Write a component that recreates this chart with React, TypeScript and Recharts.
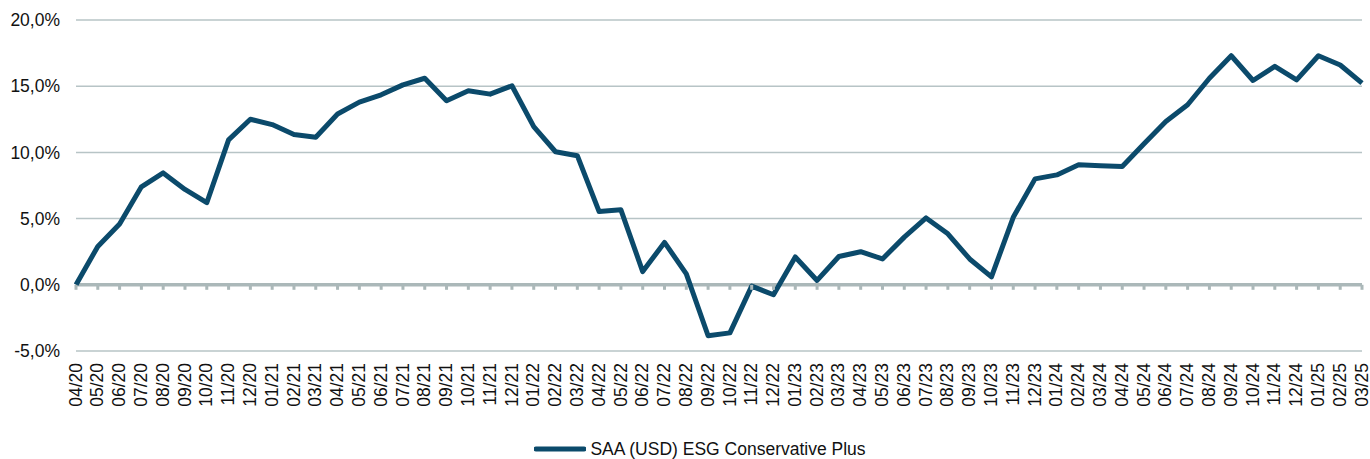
import React from 'react';
import { LineChart, Line, XAxis, YAxis, CartesianGrid, Legend } from 'recharts';

const months = [
  '04/20', '05/20', '06/20', '07/20', '08/20', '09/20', '10/20', '11/20', '12/20',
  '01/21', '02/21', '03/21', '04/21', '05/21', '06/21', '07/21', '08/21', '09/21', '10/21', '11/21', '12/21',
  '01/22', '02/22', '03/22', '04/22', '05/22', '06/22', '07/22', '08/22', '09/22', '10/22', '11/22', '12/22',
  '01/23', '02/23', '03/23', '04/23', '05/23', '06/23', '07/23', '08/23', '09/23', '10/23', '11/23', '12/23',
  '01/24', '02/24', '03/24', '04/24', '05/24', '06/24', '07/24', '08/24', '09/24', '10/24', '11/24', '12/24',
  '01/25', '02/25', '03/25',
];

const conservativePlus = [
  0.0, 2.9, 4.6, 7.4, 8.45, 7.2, 6.2, 10.95, 12.5,
  12.1, 11.35, 11.15, 12.9, 13.8, 14.35, 15.1, 15.6, 13.9, 14.65, 14.4, 15.03,
  11.95, 10.05, 9.75, 5.53, 5.66, 1.0, 3.2, 0.83, -3.85, -3.63, -0.1, -0.75,
  2.1, 0.33, 2.14, 2.5, 1.95, 3.6, 5.05, 3.85, 1.95, 0.6, 5.1, 8.0,
  8.3, 9.06, 9.0, 8.93, 10.65, 12.33, 13.6, 15.6, 17.3, 15.43, 16.5, 15.48,
  17.3, 16.6, 15.23,
];

const yTicks = [-5, 0, 5, 10, 15, 20];

const seriesName = 'SAA (USD) ESG Conservative Plus';

const data = months.map((m, i) => ({ month: m, value: conservativePlus[i], zero: 0 }));

const FONT = '"Liberation Sans", Arial, sans-serif';
const LINE_COLOR = '#0b4a6b';
const GRID_COLOR = '#b7c4c6';
const ZERO_COLOR = '#abb8b9';

const formatPct = (v: number) => `${v.toFixed(1).replace('.', ',')}%`;

// rotated month labels, centred on the category point
const MonthTick = (props: any) => {
  const { x, y, payload } = props;
  return (
    <g transform={`translate(${x},${y + 4})`}>
      <text
        transform="rotate(-90)"
        textAnchor="end"
        dy="0.32em"
        fontSize={17.5}
        fontFamily={FONT}
        fill="#111"
      >
        {payload.value}
      </text>
    </g>
  );
};

// little marks hanging under the zero line
const ZeroTick = (props: any) => {
  const { cx, cy, index } = props;
  if (cx == null || cy == null) return <g key={index} />;
  return <rect key={index} x={cx - 1.5} y={cy} width={3} height={5} fill={ZERO_COLOR} />;
};

const renderLegend = () => (
  <div
    style={{
      display: 'flex',
      justifyContent: 'center',
      alignItems: 'center',
      height: 20,
      paddingLeft: 30,
      fontFamily: FONT,
      fontSize: 17.5,
      color: '#111',
    }}
  >
    <svg width={52} height={10} style={{ marginRight: 4 }}>
      <line x1={2} y1={5} x2={50} y2={5} stroke={LINE_COLOR} strokeWidth={5} strokeLinecap="round" />
    </svg>
    <span>{seriesName}</span>
  </div>
);

const App: React.FC = () => {
  return (
    <div style={{ position: 'absolute', left: 0, top: 0, width: 1370, height: 459, background: '#fff' }}>
      <LineChart width={1370} height={459} data={data} margin={{ top: 20, right: 8, left: 0, bottom: 0 }}>
        <CartesianGrid vertical={false} stroke={GRID_COLOR} strokeWidth={1.5} />
        <XAxis
          dataKey="month"
          interval={0}
          axisLine={false}
          tickLine={false}
          height={88}
          tick={<MonthTick />}
        />
        <YAxis
          domain={[-5, 20]}
          ticks={yTicks}
          width={76}
          axisLine={false}
          tickLine={false}
          tickMargin={10}
          tickFormatter={formatPct}
          tick={{ fontSize: 17.5, fontFamily: FONT, fill: '#111' }}
        />
        <Legend verticalAlign="bottom" content={renderLegend} wrapperStyle={{ left: 0, width: 1370, bottom: 0, height: 20 }} />
        <Line
          dataKey="zero"
          stroke={ZERO_COLOR}
          strokeWidth={3.5}
          dot={<ZeroTick />}
          activeDot={false}
          legendType="none"
          isAnimationActive={false}
        />
        <Line
          dataKey="value"
          name={seriesName}
          stroke={LINE_COLOR}
          strokeWidth={5}
          strokeLinejoin="round"
          dot={false}
          activeDot={false}
          isAnimationActive={false}
        />
      </LineChart>
    </div>
  );
};

export default App;
